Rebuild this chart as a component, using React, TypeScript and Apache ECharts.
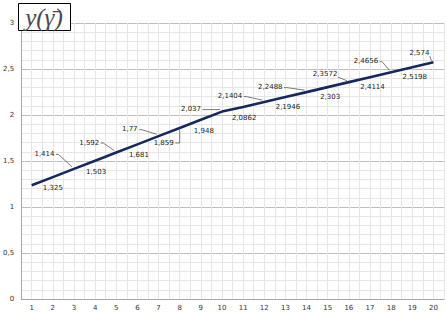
import React, { useEffect, useRef } from 'react';
import * as echarts from 'echarts';

const categories = [1, 2, 3, 4, 5, 6, 7, 8, 9, 10, 11, 12, 13, 14, 15, 16, 17, 18, 19, 20];
const values = [1.236, 1.325, 1.414, 1.503, 1.592, 1.681, 1.77, 1.859, 1.948, 2.037,
  2.0862, 2.1404, 2.1946, 2.2488, 2.303, 2.3572, 2.4114, 2.4656, 2.5198, 2.574];
const showLabel = [false, true, true, true, true, true, true, true, true, true,
  true, true, true, true, true, true, true, true, true, true];
const yTickValues = [0, 0.5, 1, 1.5, 2, 2.5, 3];

const labelPlacement: Array<[number, number, string] | null> = [
  null,
  [0, 10.5, 'b'],
  [-19.5, -15, 'l'],
  [1, 11, 'b'],
  [-17, -10, 'l'],
  [1.5, 10.7, 'b'],
  [-21, -7, 'l'],
  [-6, 15, 'bl'],
  [3, 11, 'b'],
  [-21, -2.5, 'l'],
  [1, 10.6, 'b'],
  [-22, -6, 'l'],
  [2.5, 10, 'b'],
  [-24, -5, 'l'],
  [2.5, 10, 'b'],
  [-11.5, -8, 'l'],
  [2.5, 10, 'b'],
  [-13, -11, 'l'],
  [2.5, 9.5, 'b'],
  [-4, -9, 'l'],
];

const fmt = (v: number) => String(v).replace('.', ',');

export default function App() {
  const ref = useRef<HTMLDivElement>(null);
  useEffect(() => {
    document.body.style.margin = '0';
    if (!ref.current) return;
    const chart = echarts.init(ref.current, undefined, { renderer: 'svg' });
    const pairs = categories.map((c, i) => [c, values[i]]);
    const labelFont = '7px "DejaVu Sans"';
    chart.setOption({
      animation: false,
      backgroundColor: '#ffffff',
      grid: { left: 19, right: 3, top: 23, bottom: 13 },
      xAxis: {
        type: 'value',
        min: 0.5,
        max: 20.5,
        interval: 0.5,
        axisLine: { show: true, lineStyle: { color: '#a6a6a6', width: 1 } },
        axisTick: { show: false },
        axisLabel: {
          fontSize: 7,
          fontFamily: 'DejaVu Sans',
          color: '#333',
          margin: 5,
          formatter: (v: number) => (Number.isInteger(v) && categories.includes(v) ? String(v) : ''),
        },
        splitLine: { show: true, lineStyle: { color: '#e6e6e6', width: 1 } },
      },
      yAxis: {
        type: 'value',
        min: yTickValues[0],
        max: yTickValues[yTickValues.length - 1],
        interval: 0.5,
        axisLine: { show: true, lineStyle: { color: '#a6a6a6', width: 1 } },
        axisTick: { show: false },
        axisLabel: {
          fontSize: 7,
          fontFamily: 'DejaVu Sans',
          color: '#333',
          margin: 7,
          showMaxLabel: true,
          showMinLabel: true,
          hideOverlap: false,
          formatter: (v: number) => fmt(v),
        },
        splitLine: { show: true, lineStyle: { color: '#bdbdbd', width: 1 } },
        minorTick: { show: false, splitNumber: 5 },
        minorSplitLine: { show: true, lineStyle: { color: '#e6e6e6', width: 1 } },
      },
      series: [
        {
          type: 'line',
          data: pairs,
          symbol: 'none',
          lineStyle: { color: '#16295e', width: 2.6 },
          z: 3,
        },
        {
          type: 'custom',
          coordinateSystem: 'cartesian2d',
          data: pairs,
          silent: true,
          z: 4,
          renderItem: (params: any, api: any) => {
            const i = params.dataIndex;
            const place = labelPlacement[i];
            if (!showLabel[i] || !place) return { type: 'group', children: [] };
            const [px, py] = api.coord([api.value(0), api.value(1)]);
            const [dx, dy, kind] = place;
            const text = fmt(values[i]);
            const children: any[] = [];
            if (kind === 'b') {
              children.push({
                type: 'text',
                x: px + dx,
                y: py + dy,
                style: { text, font: labelFont, fill: '#222', align: 'center', verticalAlign: 'middle' },
              });
            } else {
              const rx = px + dx;
              const cy = py + dy;
              children.push({
                type: 'text',
                x: rx,
                y: cy,
                style: { text, font: labelFont, fill: '#222', align: 'right', verticalAlign: 'middle' },
              });
              let pts: number[][];
              if (kind === 'l') {
                pts = (px - 2) - (rx + 4) > 6
                  ? [[rx + 1.5, cy + 0.5], [rx + 4, cy + 0.5], [px - 2, py - 2]]
                  : [[rx + 0.5, cy + 3], [px - 2, py - 1.5]];
              } else {
                pts = [[rx + 1.5, cy], [px, cy], [px, py + 2]];
              }
              children.push({
                type: 'polyline',
                shape: { points: pts },
                style: { stroke: '#444', lineWidth: 0.7, fill: 'none' },
              });
            }
            return { type: 'group', children };
          },
        },
      ],
      graphic: [
        {
          type: 'rect',
          z: 10,
          shape: { x: 18.5, y: 3.5, width: 52, height: 27 },
          style: { fill: '#ffffff', stroke: '#000000', lineWidth: 1 },
        },
        {
          type: 'text',
          z: 11,
          x: 44,
          y: 17,
          style: {
            text: 'y(\u03B3\u0304)',
            font: 'italic 25px "Liberation Serif"',
            fill: '#4a4a4a',
            align: 'center',
            verticalAlign: 'middle',
          },
        },
      ],
    });
    return () => chart.dispose();
  }, []);
  return <div ref={ref} style={{ width: 447, height: 312 }} />;
}
